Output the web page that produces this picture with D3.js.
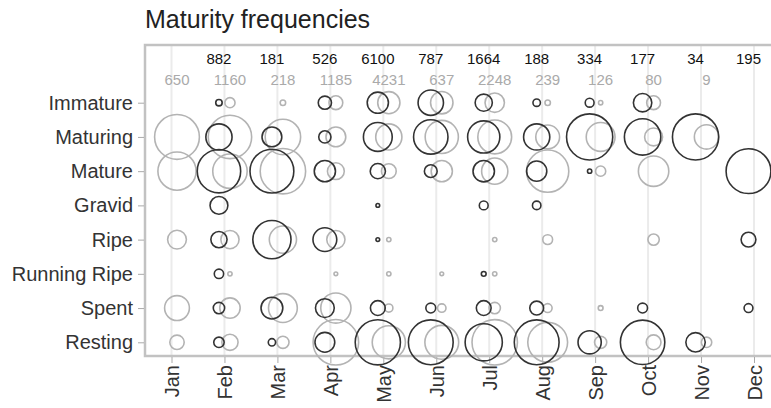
<!DOCTYPE html>
<html>
<head>
<meta charset="utf-8">
<script src="https://cdn.jsdelivr.net/npm/d3@7"></script>
<style>
  html, body { margin: 0; padding: 0; background: #fff; }
  svg { display: block; font-family: "Liberation Sans", Arial, Helvetica, sans-serif; }
</style>
</head>
<body>
<svg id="chart" width="771" height="408"></svg>
<script>
// ---- data ----
const months = ["Jan","Feb","Mar","Apr","May","Jun","Jul","Aug","Sep","Oct","Nov","Dec"];
const stages = ["Immature","Maturing","Mature","Gravid","Ripe","Running Ripe","Spent","Resting"];

// sample sizes (dark series / grey series)
const darkTotals = [null, 882, 181, 526, 6100, 787, 1664, 188, 334, 177, 34, 195];
const greyTotals = [650, 1160, 218, 1185, 4231, 637, 2248, 239, 126, 80, 9, null];

// share (%) of each stage per month, dark series
const darkImmature    = [null, 1.8, null, 7.6, 19.5, 28.0, 12.8, 2.4, 3.4, 14.7, null, null];
const darkMaturing    = [null, 29.8, 17.0, 6.5, 36.0, 51.4, 45.0, 29.8, 92.6, 57.5, 92.6, null];
const darkMature      = [null, 81.8, 83.3, 19.5, 10.0, 7.1, 19.9, 17.7, 0.8, null, null, 87.1];
const darkGravid      = [null, 13.8, null, null, 0.6, null, 3.4, 3.1, null, null, null, null];
const darkRipe        = [null, 11.4, 63.3, 24.6, 0.6, null, null, null, null, null, null, 9.5];
const darkRunningRipe = [null, 3.8, null, null, null, null, 1.0, null, null, null, null, null];
const darkSpent       = [null, 5.6, 20.6, 15.3, 9.5, 4.2, 9.5, 8.3, null, 4.2, null, 3.4];
const darkResting     = [null, 4.7, 2.3, 17.0, 88.7, 87.1, 60.1, 87.1, 23.4, 85.6, 16.3, null];

// share (%) of each stage per month, grey series
const greyImmature    = [null, 4.5, 1.3, 8.3, 21.4, 21.8, 16.3, 1.3, 0.8, 8.3, null, null];
const greyMaturing    = [87.1, 81.8, 54.4, 17.0, 29.8, 47.8, 49.6, 24.6, 36.0, 14.0, 25.8, null];
const greyMature      = [63.3, 51.4, 89.5, 12.3, 9.5, 19.5, 29.8, 77.3, 4.5, 40.1, null, null];
const greyGravid      = [null, null, null, null, null, null, null, null, null, null, null, null];
const greyRipe        = [15.3, 14.4, 32.1, 14.4, 0.8, null, 0.8, 4.2, null, 5.6, null, null];
const greyRunningRipe = [null, 0.8, null, 0.6, 0.8, 0.6, 0.8, null, null, null, null, null];
const greySpent       = [26.7, 18.1, 36.0, 39.6, 2.9, 3.1, 5.6, 3.4, 1.0, null, null, null];
const greyResting     = [9.0, 11.4, 6.5, 90.0, 47.8, 49.6, 89.5, 68.8, 6.5, 9.5, 4.7, null];

const darkRows = [darkImmature, darkMaturing, darkMature, darkGravid, darkRipe, darkRunningRipe, darkSpent, darkResting];
const greyRows = [greyImmature, greyMaturing, greyMature, greyGravid, greyRipe, greyRunningRipe, greySpent, greyResting];

// ---- drawing ----
const svg = d3.select("#chart");
const plot = { left: 145, top: 45, right: 850, bottom: 356 };

const x = d3.scalePoint().domain(months).range([171.5, 754]);
const y = d3.scalePoint().domain(stages).range([102.7, 342.3]);
const r = d3.scaleSqrt().domain([0, 100]).range([0, 24]);
const offset = 5.5;

// title
svg.append("text")
  .attr("x", 145).attr("y", 28)
  .attr("font-size", 25).attr("fill", "#222")
  .text("Maturity frequencies");

// gridlines
svg.append("g").selectAll("line").data(months).join("line")
  .attr("x1", d => x(d)).attr("x2", d => x(d))
  .attr("y1", plot.top).attr("y2", plot.bottom)
  .attr("stroke", "#ebebeb").attr("stroke-width", 2);

// frame
svg.append("rect")
  .attr("x", plot.left).attr("y", plot.top)
  .attr("width", plot.right - plot.left).attr("height", plot.bottom - plot.top)
  .attr("fill", "none").attr("stroke", "#c2c2c2").attr("stroke-width", 2.5);

// y axis
const yAxis = svg.append("g")
  .attr("transform", `translate(${plot.left - 1},0)`)
  .call(d3.axisLeft(y).tickSize(6).tickPadding(5));
yAxis.select(".domain").remove();
yAxis.selectAll(".tick line").attr("stroke", "#aaa");
yAxis.selectAll(".tick text").attr("font-size", 20).attr("fill", "#333")
  .attr("font-family", "Liberation Sans, Arial, sans-serif");

// x axis
const xAxis = svg.append("g")
  .attr("transform", `translate(0,${plot.bottom + 1})`)
  .call(d3.axisBottom(x).tickSize(6).tickPadding(5));
xAxis.select(".domain").remove();
xAxis.selectAll(".tick line").attr("stroke", "#aaa");
xAxis.selectAll(".tick text")
  .attr("font-size", 20).attr("fill", "#333")
  .attr("font-family", "Liberation Sans, Arial, sans-serif")
  .attr("text-anchor", "end")
  .attr("dx", 0).attr("dy", 0)
  .attr("transform", "translate(7,8) rotate(-90)")
  .attr("x", 0).attr("y", 0);

// totals
svg.append("g").selectAll("text").data(months.map((m, i) => ({ m, v: darkTotals[i] })).filter(d => d.v != null))
  .join("text")
  .attr("x", d => x(d.m) - offset).attr("y", 64)
  .attr("text-anchor", "middle").attr("font-size", 15).attr("fill", "#111")
  .text(d => d.v);
svg.append("g").selectAll("text").data(months.map((m, i) => ({ m, v: greyTotals[i] })).filter(d => d.v != null))
  .join("text")
  .attr("x", d => x(d.m) + offset).attr("y", 84.5)
  .attr("text-anchor", "middle").attr("font-size", 15).attr("fill", "#aaa")
  .text(d => d.v);

function flatten(rows) {
  const out = [];
  rows.forEach((row, si) => row.forEach((v, mi) => {
    if (v != null) out.push({ stage: stages[si], month: months[mi], v });
  }));
  return out;
}

// grey circles (drawn first)
svg.append("g").selectAll("circle").data(flatten(greyRows)).join("circle")
  .attr("cx", d => x(d.month) + offset).attr("cy", d => y(d.stage))
  .attr("r", d => r(d.v))
  .attr("fill", "none").attr("stroke", "#b3b3b3").attr("stroke-width", 1.6);

// dark circles
svg.append("g").selectAll("circle").data(flatten(darkRows)).join("circle")
  .attr("cx", d => x(d.month) - offset).attr("cy", d => y(d.stage))
  .attr("r", d => r(d.v))
  .attr("fill", "none").attr("stroke", "#333").attr("stroke-width", 1.6);
</script>
</body>
</html>
